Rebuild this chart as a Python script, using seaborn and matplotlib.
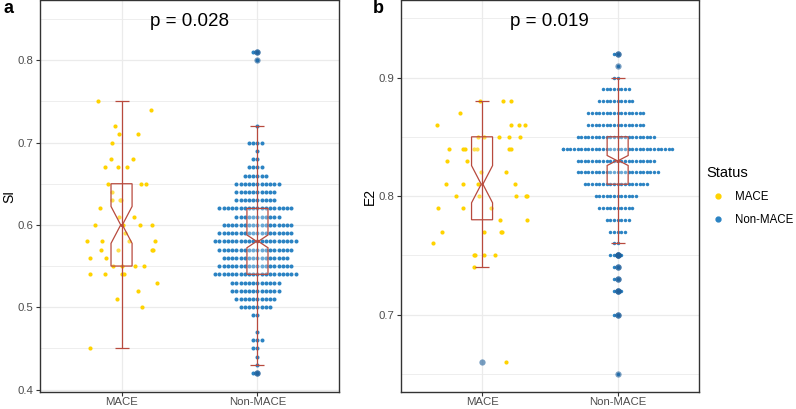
import warnings
warnings.filterwarnings("ignore")
import numpy as np
import pandas as pd
import matplotlib
matplotlib.use("Agg")
import matplotlib.pyplot as plt
import seaborn as sns
from matplotlib.path import Path
from matplotlib.lines import Line2D
from matplotlib import cbook

# ---------------- data ----------------
categories = ["MACE", "Non-MACE"]
panel_letters = ["a", "b"]
y_labels = ["SI", "E2"]
p_texts = ["p = 0.028", "p = 0.019"]
legend_title = "Status"

# SI (panel a): value levels and number of patients at each level
si_mace_levels = [0.45, 0.50, 0.51, 0.52, 0.53, 0.54, 0.55, 0.56, 0.57, 0.58, 0.59, 0.60,
                  0.61, 0.62, 0.63, 0.64, 0.65, 0.67, 0.68, 0.70, 0.71, 0.72, 0.74, 0.75]
si_mace_counts = [1, 1, 1, 1, 1, 4, 4, 2, 4, 4, 1, 4, 2, 1, 3, 1, 3, 3, 2, 1, 2, 1, 1, 1]
si_non_levels = [0.42, 0.43, 0.44, 0.45, 0.46, 0.47, 0.49, 0.50, 0.51, 0.52, 0.53, 0.54,
                 0.55, 0.56, 0.57, 0.58, 0.59, 0.60, 0.61, 0.62, 0.63, 0.64, 0.65, 0.66,
                 0.67, 0.68, 0.69, 0.70, 0.72, 0.80, 0.81]
si_non_counts = [2, 1, 1, 2, 3, 1, 2, 8, 10, 12, 12, 20, 18, 16, 18, 20, 18, 17, 11, 18,
                 10, 10, 11, 6, 4, 2, 1, 4, 1, 1, 2]

# E2 (panel b)
e2_mace_levels = [0.66, 0.74, 0.75, 0.76, 0.77, 0.78, 0.79, 0.80, 0.81, 0.82, 0.83, 0.84,
                  0.85, 0.86, 0.87, 0.88]
e2_mace_counts = [1, 1, 4, 1, 4, 2, 3, 5, 4, 2, 2, 7, 5, 4, 1, 3]
e2_non_levels = [0.65, 0.70, 0.72, 0.73, 0.74, 0.75, 0.76, 0.77, 0.78, 0.79, 0.80, 0.81,
                 0.82, 0.83, 0.84, 0.85, 0.86, 0.87, 0.88, 0.89, 0.90, 0.91, 0.92]
e2_non_counts = [1, 2, 3, 2, 2, 4, 2, 5, 7, 10, 12, 18, 23, 22, 32, 22, 16, 16, 10, 8, 2, 1, 2]

# ---------------- style ----------------
GOLD = "#FFD300"
BLUE = "#2B83C3"
RED = "#B84A3E"
GRID = "#EBEBEB"
BORDER = "#333333"
TICKTXT = "#4D4D4D"

plt.rcParams["font.family"] = ["Liberation Sans", "DejaVu Sans"]

W, H = 796, 409
fig = plt.figure(figsize=(W / 100, H / 100), dpi=100)
ax_a = fig.add_axes([40 / W, 17.5 / H, 299 / W, 391 / H])
ax_b = fig.add_axes([400.7 / W, 17.5 / H, 298.3 / W, 391 / H])

panels = [
    dict(ax=ax_a, mace=(si_mace_levels, si_mace_counts), non=(si_non_levels, si_non_counts),
         jitter=0.27, swarm=2.9, ylim=(0.3976, 0.8726),
         major=[0.4, 0.5, 0.6, 0.7, 0.8], minor=[0.45, 0.55, 0.65, 0.75, 0.85]),
    dict(ax=ax_b, mace=(e2_mace_levels, e2_mace_counts), non=(e2_non_levels, e2_non_counts),
         jitter=0.36, swarm=2.5, ylim=(0.6351, 0.965),
         major=[0.7, 0.8, 0.9], minor=[0.65, 0.75, 0.85, 0.95]),
]

np.random.seed(7)
WHIS = 1.4
for i, p in enumerate(panels):
    ax = p["ax"]
    ax.set_axisbelow(True)
    mace_vals = np.repeat(p["mace"][0], p["mace"][1])
    non_vals = np.repeat(p["non"][0], p["non"][1])
    df_m = pd.DataFrame({"Status": "MACE", "v": mace_vals})
    df_n = pd.DataFrame({"Status": "Non-MACE", "v": non_vals})
    df = pd.concat([df_m, df_n], ignore_index=True)

    sns.stripplot(data=df_m, x="Status", y="v", order=categories, jitter=p["jitter"],
                  size=3.0, color=GOLD, linewidth=0, ax=ax, zorder=2)
    sns.swarmplot(data=df_n, x="Status", y="v", order=categories, size=p["swarm"],
                  color=BLUE, linewidth=0, ax=ax, zorder=2)

    n_lines0 = len(ax.lines)
    n_patch0 = len(ax.patches)
    sns.boxplot(data=df, x="Status", y="v", order=categories, width=0.155, whis=WHIS,
                notch=True, showcaps=False, color="white", linecolor=RED, linewidth=0.9,
                boxprops=dict(facecolor=(1, 1, 1, 0.3), edgecolor=RED, zorder=3),
                whiskerprops=dict(visible=False),
                medianprops=dict(color=RED, linewidth=2.0, zorder=3.5),
                flierprops=dict(marker="o", markerfacecolor=(0.12, 0.37, 0.60, 0.6),
                                markeredgecolor="none", markersize=4.5),
                ax=ax)

    # narrow the notch like ggplot (notch waist close to the centre)
    for patch in ax.patches[n_patch0:]:
        path = patch.get_path()
        v = path.vertices.copy()
        left, right = v[:, 0].min(), v[:, 0].max()
        pos = (left + right) / 2
        bw = right - left
        for k in range(len(v)):
            if left + 1e-9 < v[k, 0] < right - 1e-9:
                v[k, 0] = pos + np.sign(v[k, 0] - pos) * bw * 0.04
        patch.set_path(Path(v, path.codes))
    for ln in ax.lines[n_lines0:]:
        xd, yd = np.asarray(ln.get_xdata(), float), np.asarray(ln.get_ydata(), float)
        if ln.get_visible() and len(xd) == 2 and yd[0] == yd[1] and ln.get_linestyle() != "None":
            c = xd.mean()
            half = (xd[1] - xd[0]) / 2
            ln.set_xdata([c - half * 0.25, c + half * 0.25])

    # errorbar (whisker line through the box with caps)
    for pos, vals in enumerate([mace_vals, non_vals]):
        st = cbook.boxplot_stats(vals, whis=WHIS)[0]
        ax.errorbar([pos], [st["med"]], yerr=[[st["med"] - st["whislo"]], [st["whishi"] - st["med"]]],
                    fmt="none", ecolor=RED, elinewidth=0.9, capsize=4.7, capthick=0.9, zorder=4)

    ax.set_xlim(-0.6, 1.6)
    ax.set_ylim(*p["ylim"])
    ax.set_yticks(p["major"])
    ax.set_yticklabels([f"{t:.1f}" for t in p["major"]])
    ax.set_yticks(p["minor"], minor=True)
    ax.grid(True, which="major", color=GRID, linewidth=0.9)
    ax.grid(True, which="minor", axis="y", color=GRID, linewidth=0.6)
    ax.tick_params(axis="both", which="major", length=2.6, width=0.8, color=BORDER,
                   labelsize=8.2, labelcolor=TICKTXT, pad=2.2)
    ax.tick_params(axis="x", which="major", pad=1.2)
    ax.tick_params(axis="y", which="minor", length=0)
    for s in ax.spines.values():
        s.set_color(BORDER)
        s.set_linewidth(1.0)
    ax.set_xlabel("")
    ax.set_ylabel(y_labels[i], fontsize=10, color="black")
    ax.yaxis.set_label_coords(-0.079, 0.5)
    ax.text(0.5, 0.935, p_texts[i], transform=ax.transAxes, ha="center", va="baseline",
            fontsize=13.5, color="black")

fig.text(3 / W, 1 - 13 / H, panel_letters[0], fontsize=13, fontweight="bold", va="baseline")
fig.text(373 / W, 1 - 13 / H, panel_letters[1], fontsize=13, fontweight="bold", va="baseline")

handles = [Line2D([], [], marker="o", linestyle="", color=GOLD, markersize=3.5),
           Line2D([], [], marker="o", linestyle="", color=BLUE, markersize=3.5)]
leg = fig.legend(handles, categories, title=legend_title, loc="upper left",
                 bbox_to_anchor=(706 / W, 1 - 166 / H), frameon=False, borderaxespad=0,
                 borderpad=0, handlelength=2.0, handletextpad=0.55, labelspacing=0.95,
                 fontsize=8.3, title_fontsize=10.5, alignment="left")

fig.savefig("out.png", dpi=100)
